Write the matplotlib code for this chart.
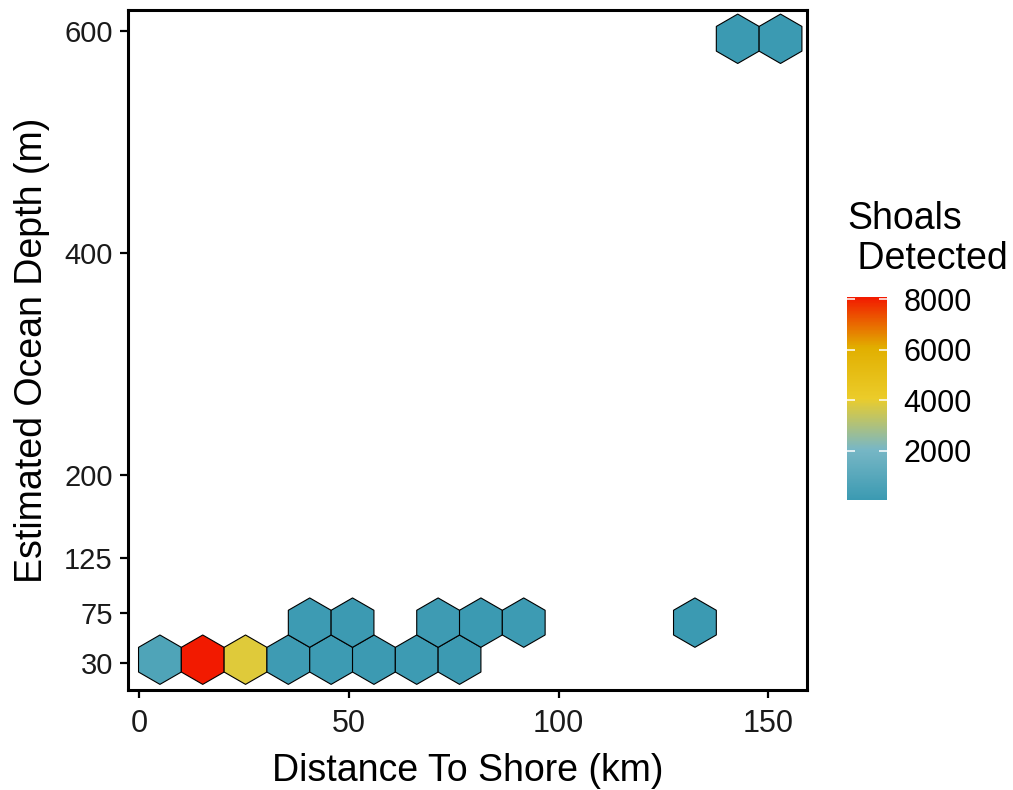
import matplotlib.pyplot as plt
from matplotlib.patches import Polygon
from matplotlib.collections import PatchCollection
from matplotlib.colors import LinearSegmentedColormap, Normalize

plt.rcParams['font.family'] = ['Liberation Sans', 'DejaVu Sans']

# hex bin centres (km, m) and counts
hex_x = [5.0, 15.2, 25.4, 35.6, 45.8, 56.0, 66.2, 76.4,
         40.7, 50.9, 71.3, 81.5, 91.7, 132.5,
         142.7, 152.9]
hex_y = [33.2] * 8 + [66.6] * 6 + [592.7] * 2
counts = [710, 8090, 3870, 160, 120, 90, 140, 110,
          130, 100, 150, 80, 120, 60,
          50, 70]

hex_w = 10.2
hex_h = 44.5

zissou = ["#3B9AB2", "#78B7C5", "#EBCC2A", "#E1AF00", "#F21A00"]
cmap = LinearSegmentedColormap.from_list("zissou", zissou)
norm = Normalize(vmin=min(counts), vmax=max(counts))

fig = plt.figure(figsize=(10.13, 7.9), dpi=100)
ax = fig.add_axes([0.1264, 0.1266, 0.6702, 0.8607])

patches = []
for cx, cy in zip(hex_x, hex_y):
    verts = [(cx, cy + hex_h / 2), (cx + hex_w / 2, cy + hex_h / 4),
             (cx + hex_w / 2, cy - hex_h / 4), (cx, cy - hex_h / 2),
             (cx - hex_w / 2, cy - hex_h / 4), (cx - hex_w / 2, cy + hex_h / 4)]
    patches.append(Polygon(verts, closed=True))
pc = PatchCollection(patches, cmap=cmap, norm=norm, edgecolor='black', linewidth=0.8)
pc.set_array(counts)
ax.add_collection(pc)

ax.set_xlim(-2.6, 159.2)
ax.set_ylim(5.9, 618.6)
ax.set_xticks([0, 50, 100, 150])
ax.set_yticks([30, 75, 125, 200, 400, 600])
for s in ax.spines.values():
    s.set_linewidth(2.2)
ax.tick_params(width=1.6, length=6, labelcolor='#1a1a1a')
ax.tick_params(axis='x', labelsize=22, pad=8)
ax.tick_params(axis='y', labelsize=21, pad=5)
ax.set_xlabel("Distance To Shore (km)", fontsize=27, labelpad=10)
ax.set_ylabel("Estimated Ocean Depth (m)", fontsize=27, labelpad=10)

cax = fig.add_axes([0.836, 0.367, 0.0395, 0.257])
cb = fig.colorbar(pc, cax=cax)
cb.outline.set_visible(False)
cb.set_ticks([2000, 4000, 6000, 8000])
cax.tick_params(left=True, right=True, direction='in', color='white',
                length=6, width=1.1, labelsize=22, pad=12)
cax.text(0.0, 1.1, "Shoals\n Detected", transform=cax.transAxes,
         fontsize=27, ha='left', va='bottom', linespacing=1.15)

fig.savefig("out.png", dpi=100)
